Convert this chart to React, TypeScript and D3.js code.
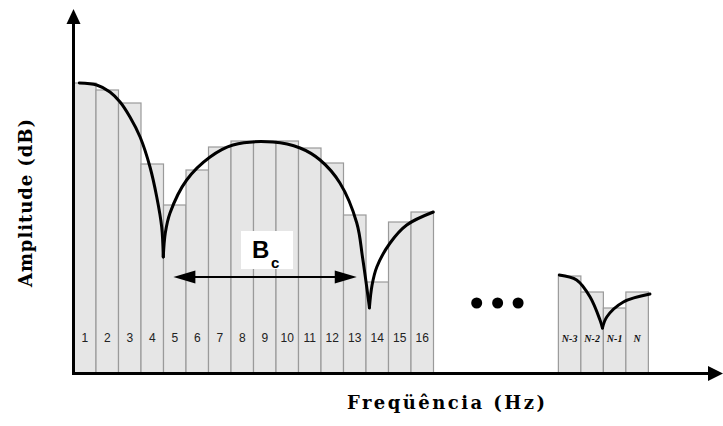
import React from "react";
import * as d3 from "d3";

// ---- data ----
const barLabels = ["1","2","3","4","5","6","7","8","9","10","11","12","13","14","15","16"];
const barValues = [290, 283, 270, 209, 168, 203, 226, 232, 232, 232, 225, 210, 158, 91, 151, 161];
const tailLabels = ["N-3", "N-2", "N-1", "N"];
const tailValues = [97, 81, 65, 81];
const tailStartSlot = 21.55;

// envelope curve segments [slot, value]
const lobe1: [number, number][] = [[0.26,290],[1.03,288],[1.62,281],[2.07,271],[2.51,256],[2.96,236],[3.40,206],[3.70,176],[3.92,146],[3.99,116]];
const lobe2: [number, number][] = [[3.99,116],[4.08,140],[4.29,160],[5.03,193],[6.07,216],[7.09,228],[8.87,231],[10.07,225],[10.96,213],[11.84,190],[12.59,150],[12.85,115],[13.15,66]];
const lobe3: [number, number][] = [[13.15,65],[13.27,88],[13.48,106],[14.07,130],[14.81,148],[15.99,161]];
const lobe4a: [number, number][] = [[21.59,98],[22.36,93],[22.96,76],[23.4,53],[23.51,45]];
const lobe4b: [number, number][] = [[23.51,45],[23.7,56],[24.44,71],[25.62,79]];
const lobes = [lobe1, lobe2, lobe3, lobe4a, lobe4b];

const dotSlots = [17.92, 18.85, 19.76];
const dotValue = 70;
const bcRange: [number, number] = [4.44, 12.59];
const bcValue = 96;

export default function App() {
  const W = 723, H = 426;
  const x = d3.scaleLinear().domain([0, 1]).range([73.5, 96]);
  const y = d3.scaleLinear().domain([0, 360]).range([373, 13]);
  const bw = x(1) - x(0);
  const line = d3.line<[number, number]>().x(d => x(d[0])).y(d => y(d[1])).curve(d3.curveCatmullRom.alpha(0.5));

  const barFill = "#e6e6e6";
  const barStroke = "#9a9a9a";
  const labelY = y(35);

  const bcL = x(bcRange[0]);
  const bcR = x(bcRange[1]);
  const bcY = y(bcValue);

  return (
    <svg width={W} height={H} style={{ position: "absolute", left: 0, top: 0, background: "#fff" }}>
      {/* bars 1..16 */}
      {barValues.map((v, i) => (
        <rect key={"b" + i} x={x(i)} y={y(v)} width={bw} height={y(0) - y(v)} fill={barFill} stroke={barStroke} strokeWidth={1.2} />
      ))}
      {barLabels.map((t, i) => (
        <text key={"l" + i} x={x(i + 0.5)} y={labelY} textAnchor="middle" dominantBaseline="central"
          fontFamily="Liberation Sans, Arial, sans-serif" fontSize={12} fill="#222">{t}</text>
      ))}
      {/* tail bars */}
      {tailValues.map((v, i) => (
        <rect key={"t" + i} x={x(tailStartSlot + i)} y={y(v)} width={bw} height={y(0) - y(v)} fill={barFill} stroke={barStroke} strokeWidth={1.2} />
      ))}
      {tailLabels.map((t, i) => (
        <text key={"tl" + i} x={x(tailStartSlot + i + 0.5)} y={labelY} textAnchor="middle" dominantBaseline="central"
          fontFamily="Liberation Serif, Times New Roman, serif" fontStyle="italic" fontWeight="bold" fontSize={10} fill="#111">{t}</text>
      ))}
      {/* envelope */}
      {lobes.map((seg, i) => (
        <path key={"c" + i} d={line(seg) || ""} fill="none" stroke="#000" strokeWidth={3} strokeLinecap="round" />
      ))}
      {/* dots */}
      {dotSlots.map((s, i) => (
        <circle key={"d" + i} cx={x(s)} cy={y(dotValue)} r={5.5} fill="#000" />
      ))}
      {/* Bc arrow */}
      <line x1={bcL + 18} x2={bcR - 18} y1={bcY} y2={bcY} stroke="#000" strokeWidth={2} />
      <path d={`M${bcL},${bcY} L${bcL + 22},${bcY - 6.5} L${bcL + 22},${bcY + 6.5} Z`} fill="#000" />
      <path d={`M${bcR},${bcY} L${bcR - 22},${bcY - 6.5} L${bcR - 22},${bcY + 6.5} Z`} fill="#000" />
      <rect x={241} y={231} width={52} height={38} fill="#fff" />
      <text x={252} y={258} fontFamily="Liberation Sans, Arial, sans-serif" fontWeight="bold" fontSize={24} fill="#000">B</text>
      <text x={271} y={268} fontFamily="Liberation Sans, Arial, sans-serif" fontWeight="bold" fontSize={15} fill="#000">c</text>
      {/* axes */}
      <line x1={73.5} x2={73.5} y1={374.5} y2={22} stroke="#000" strokeWidth={3} />
      <path d="M73.5,9 L66.5,24 L80.5,24 Z" fill="#000" />
      <line x1={72} x2={712} y1={373.5} y2={373.5} stroke="#000" strokeWidth={3} />
      <path d="M723,373.5 L708,366 L708,381 Z" fill="#000" />
      {/* axis titles */}
      <text x={446} y={409} textAnchor="middle" fontFamily="DejaVu Serif, serif" fontWeight="bold" fontSize={18}
        textLength={198} lengthAdjust="spacing" fill="#000">Freqüência (Hz)</text>
      <text transform="translate(32,203) rotate(-90)" textAnchor="middle" fontFamily="DejaVu Serif, serif" fontWeight="bold" fontSize={18}
        textLength={168} lengthAdjust="spacing" fill="#000">Amplitude (dB)</text>
    </svg>
  );
}
